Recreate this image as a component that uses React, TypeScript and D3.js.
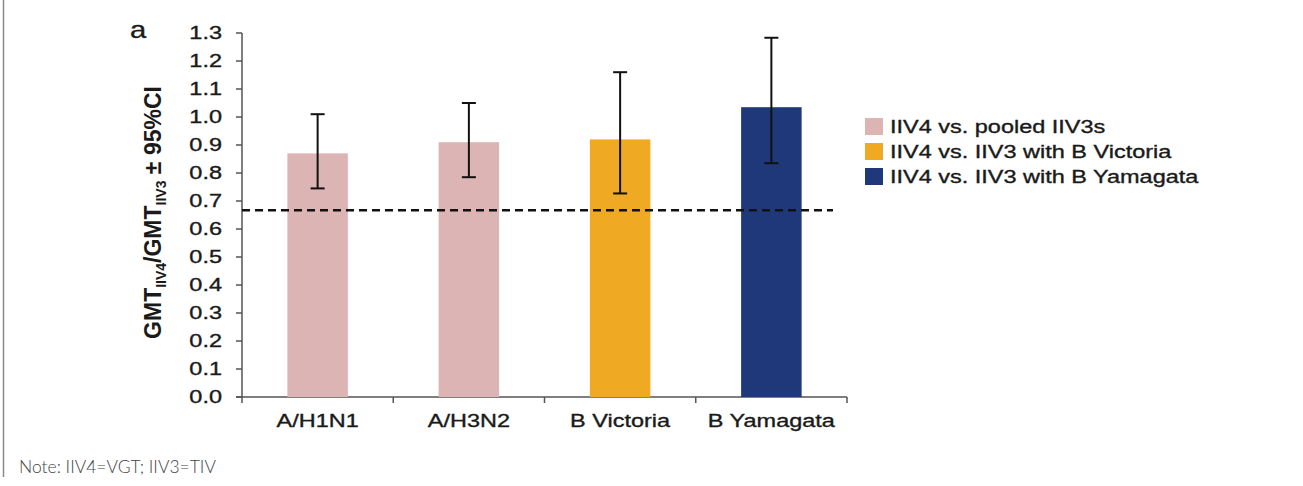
import React from "react";
import * as d3 from "d3";

const categories = ["A/H1N1", "A/H3N2", "B Victoria", "B Yamagata"];
const ratios = [0.87, 0.91, 0.92, 1.035];
const ciLow = [0.745, 0.785, 0.727, 0.835];
const ciHigh = [1.01, 1.05, 1.16, 1.283];
const seriesOf = [0, 0, 1, 2];
const legendLabels = [
  "IIV4 vs. pooled IIV3s",
  "IIV4 vs. IIV3 with B Victoria",
  "IIV4 vs. IIV3 with B Yamagata",
];
const seriesColors = ["#dbb4b3", "#f0a922", "#1f387a"];
const yTicks = d3.range(0, 14).map((i) => i / 10);
const margin = 0.667;

const W = 1303;
const H = 486;
const font = "'Liberation Sans', Arial, sans-serif";
const SX = 1.27; // horizontal stretch of the chart lettering

type STextProps = {
  x: number;
  y: number;
  size: number;
  anchor?: "start" | "middle" | "end";
  children: React.ReactNode;
};

function SText({ x, y, size, anchor = "start", children }: STextProps) {
  return (
    <text
      transform={`translate(${x}, ${y}) scale(${SX}, 1)`}
      textAnchor={anchor}
      fontFamily={font}
      fontSize={size}
      fill="#1a1a1a"
      stroke="#1a1a1a"
      strokeWidth={0.35}
    >
      {children}
    </text>
  );
}

export default function App() {
  const x = d3.scaleBand<string>().domain(categories).range([242, 847]).paddingInner(0.6).paddingOuter(0.3);
  const y = d3.scaleLinear().domain([0, 1.3]).range([397, 33]);
  const step = x.step();
  const axisColor = "#555";

  return (
    <svg width={W} height={H} style={{ position: "absolute", left: 0, top: 0, background: "#fff" }}>
      {/* panel frame */}
      <line x1={3.5} x2={3.5} y1={0} y2={477} stroke="#8a8a8a" strokeWidth={1.5} />

      <SText x={130} y={38} size={23}>a</SText>

      {/* y axis */}
      <line x1={242} x2={242} y1={y(1.3)} y2={y(0)} stroke={axisColor} strokeWidth={1.5} />
      {yTicks.map((t) => (
        <g key={t}>
          <line x1={236} x2={242} y1={y(t)} y2={y(t)} stroke={axisColor} strokeWidth={1.5} />
          <SText x={222} y={y(t) + 6} size={18.5} anchor="end">
            {t.toFixed(1)}
          </SText>
        </g>
      ))}
      <text
        transform={`translate(161, 212.5) rotate(-90)`}
        textAnchor="middle"
        fontFamily={font}
        fontSize={23}
        fontWeight="bold"
        fill="#1a1a1a"
      >
        GMT<tspan fontSize={14} dy={5}>IIV4</tspan>
        <tspan dy={-5}>/GMT</tspan>
        <tspan fontSize={14} dy={5}>IIV3</tspan>
        <tspan dy={-5}> ± 95%CI</tspan>
      </text>

      {/* x axis */}
      <line x1={236} x2={847} y1={y(0)} y2={y(0)} stroke={axisColor} strokeWidth={1.5} />
      {d3.range(0, categories.length + 1).map((i) => (
        <line key={i} x1={242 + i * step} x2={242 + i * step} y1={y(0)} y2={y(0) + 6} stroke={axisColor} strokeWidth={1.5} />
      ))}
      {categories.map((c) => (
        <SText key={c} x={x(c)! + x.bandwidth() / 2} y={427} size={18.5} anchor="middle">
          {c}
        </SText>
      ))}

      {/* bars */}
      {categories.map((c, i) => (
        <rect key={c} x={x(c)} y={y(ratios[i])} width={x.bandwidth()} height={y(0) - y(ratios[i])} fill={seriesColors[seriesOf[i]]} />
      ))}

      {/* non-inferiority margin */}
      <line x1={242} x2={833} y1={y(margin)} y2={y(margin)} stroke="#111" strokeWidth={2.5} strokeDasharray="8 5" />

      {/* confidence intervals */}
      {categories.map((c, i) => {
        const cx = x(c)! + x.bandwidth() / 2;
        return (
          <g key={c} stroke="#111" strokeWidth={2}>
            <line x1={cx} x2={cx} y1={y(ciHigh[i])} y2={y(ciLow[i])} />
            <line x1={cx - 7} x2={cx + 7} y1={y(ciHigh[i])} y2={y(ciHigh[i])} />
            <line x1={cx - 7} x2={cx + 7} y1={y(ciLow[i])} y2={y(ciLow[i])} />
          </g>
        );
      })}

      {/* legend */}
      {legendLabels.map((l, i) => (
        <g key={l}>
          <rect x={865} y={118 + i * 25} width={18} height={17} fill={seriesColors[i]} />
          <SText x={890} y={133 + i * 25} size={18.5}>
            {l}
          </SText>
        </g>
      ))}

      <text x={19} y={473} fontFamily="Lato, sans-serif" fontWeight={300} fontSize={17.5} fill="#444">
        Note: IIV4=VGT; IIV3=TIV
      </text>
    </svg>
  );
}
